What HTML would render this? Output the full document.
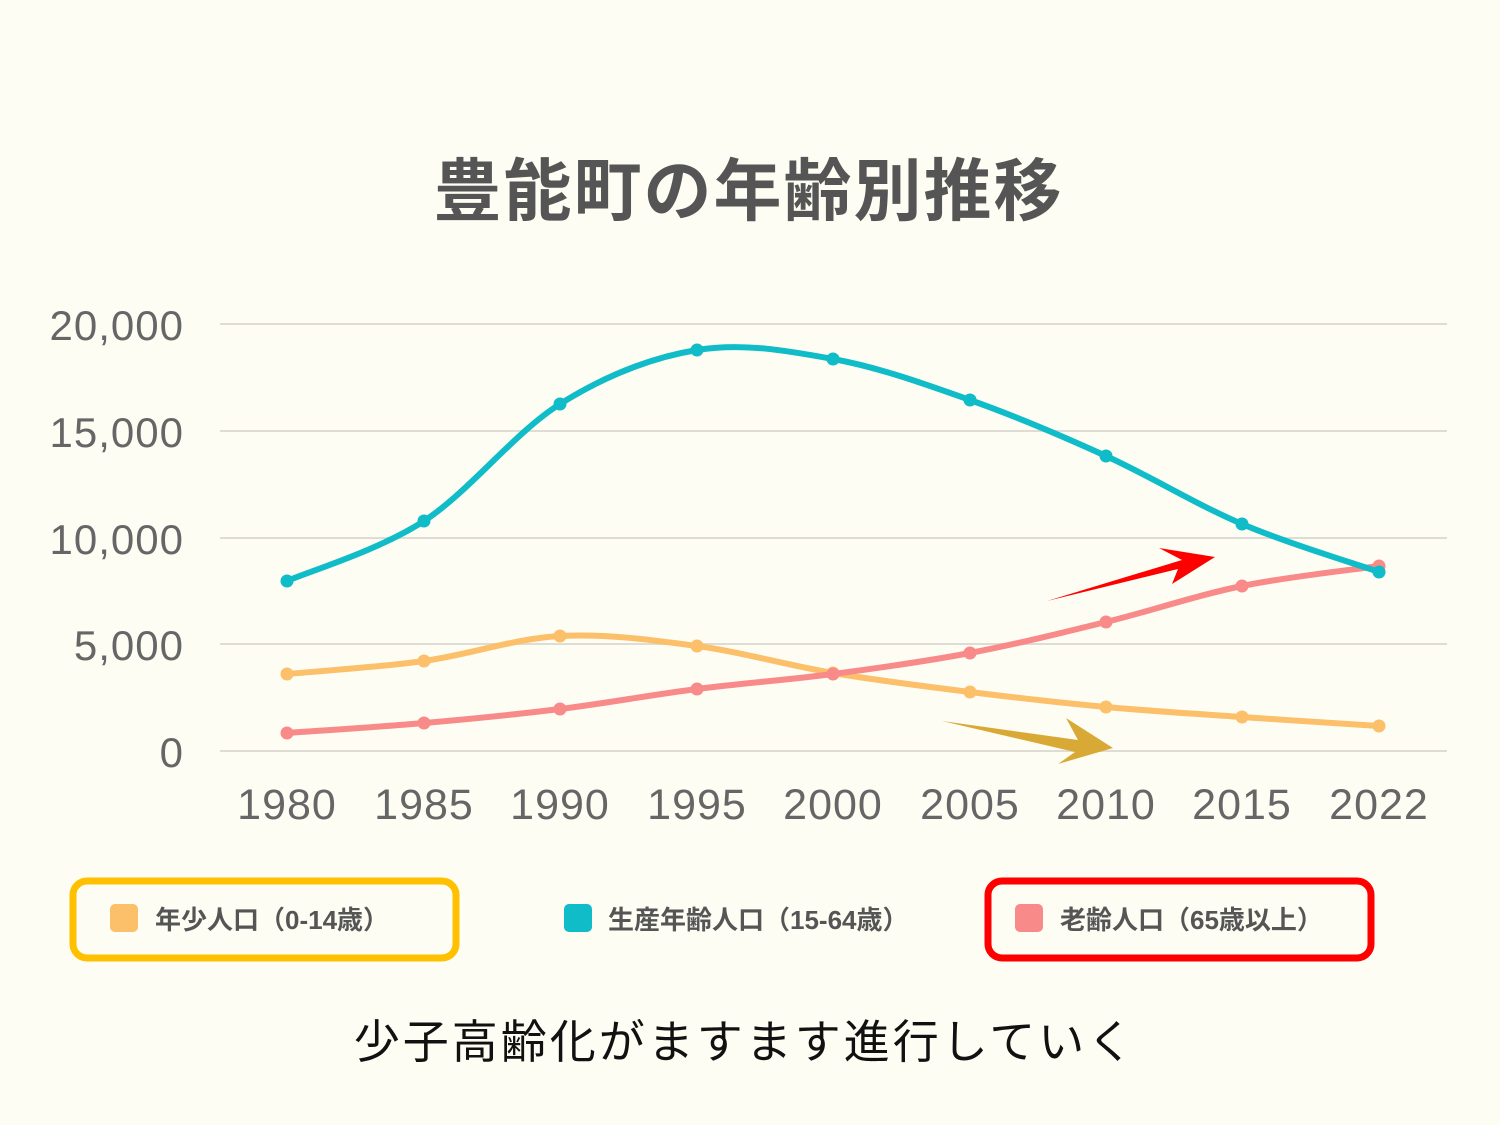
<!DOCTYPE html>
<html><head><meta charset="utf-8"><style>
html,body{margin:0;padding:0;}
body{width:1500px;height:1125px;background:#fdfdf3;position:relative;overflow:hidden;font-family:"Liberation Sans","Noto Sans CJK JP",sans-serif;}
.t{position:absolute;white-space:nowrap;}
</style></head><body>
<div class="t" style="left:0;width:1497px;text-align:center;top:136px;font-size:68px;font-weight:bold;color:#555;letter-spacing:2px;">豊能町の年齢別推移</div>
<svg width="1500" height="1125" style="position:absolute;left:0;top:0">
<g stroke="#dedcd4" stroke-width="2">
<line x1="220" x2="1447" y1="324" y2="324"/><line x1="220" x2="1447" y1="431" y2="431"/>
<line x1="220" x2="1447" y1="538" y2="538"/><line x1="220" x2="1447" y1="644" y2="644"/>
<line x1="220" x2="1447" y1="751" y2="751"/></g>
<g font-family="Liberation Sans,sans-serif" font-size="42" fill="#666" text-anchor="end" letter-spacing="1">
<text x="184" y="340">20,000</text><text x="184" y="447">15,000</text><text x="184" y="554">10,000</text><text x="184" y="660">5,000</text><text x="184" y="767">0</text></g>
<g font-family="Liberation Sans,sans-serif" font-size="43" fill="#666" text-anchor="middle" letter-spacing="1">
<text x="287" y="819">1980</text><text x="424" y="819">1985</text><text x="560" y="819">1990</text><text x="697" y="819">1995</text><text x="833" y="819">2000</text><text x="970" y="819">2005</text><text x="1106" y="819">2010</text><text x="1242" y="819">2015</text><text x="1379" y="819">2022</text></g>
<g id="series"></g>
<polygon fill="#ff0000" points="1047,601 1182,560 1159,548 1215,557 1172,584 1178,569"/>
<polygon fill="#d9a936" points="942,721 1078,740 1066,718 1113,748 1058,764 1075,752"/>
<rect x="73" y="881" width="383" height="77" rx="14" fill="none" stroke="#ffc000" stroke-width="7"/>
<rect x="988" y="881" width="383" height="77" rx="14" fill="none" stroke="#ff0000" stroke-width="7"/>
<rect x="110" y="904" width="28" height="28" rx="5" fill="#fcbf6a"/>
<rect x="564" y="904" width="28" height="28" rx="5" fill="#0fbcc8"/>
<rect x="1015" y="904" width="28" height="28" rx="5" fill="#f98a8a"/>
</svg>
<div class="t" style="left:155px;top:900px;font-size:26px;font-weight:bold;color:#555;">年少人口（0-14歳）</div>
<div class="t" style="left:608px;top:900px;font-size:26px;font-weight:bold;color:#555;">生産年齢人口（15-64歳）</div>
<div class="t" style="left:1060px;top:900px;font-size:26px;font-weight:bold;color:#555;">老齢人口（65歳以上）</div>
<div class="t" style="left:0;width:1490px;text-align:center;top:1006px;font-size:46px;color:#111;letter-spacing:3px;">少子高齢化がますます進行していく</div>
<script>
var xs=[287,424,560,697,833,970,1106,1242,1379];
var S=[["#fcbf6a",[674,661,636,646,673,692,707,717,726]],["#f98a8a",[733,723,709,689,674,653,622,586,566]],["#0fbcc8",[581,521,404,350,359,400,456,524,572]]];
var g=document.getElementById("series"),h="";
S.forEach(function(s){var y=s[1],d="M"+xs[0]+","+y[0];
for(var i=0;i<8;i++){var p0=i?i-1:0,p3=i<7?i+2:8;
var c1x=xs[i]+(xs[i+1]-xs[p0])/6,c1y=y[i]+(y[i+1]-y[p0])/6,c2x=xs[i+1]-(xs[p3]-xs[i])/6,c2y=y[i+1]-(y[p3]-y[i])/6;
d+=" C"+c1x+","+c1y+" "+c2x+","+c2y+" "+xs[i+1]+","+y[i+1];}
h+='<path d="'+d+'" fill="none" stroke="'+s[0]+'" stroke-width="6"/>';
for(var i=0;i<9;i++)h+='<circle cx="'+xs[i]+'" cy="'+y[i]+'" r="6.5" fill="'+s[0]+'"/>';});
g.innerHTML=h;
</script>
</body></html>
